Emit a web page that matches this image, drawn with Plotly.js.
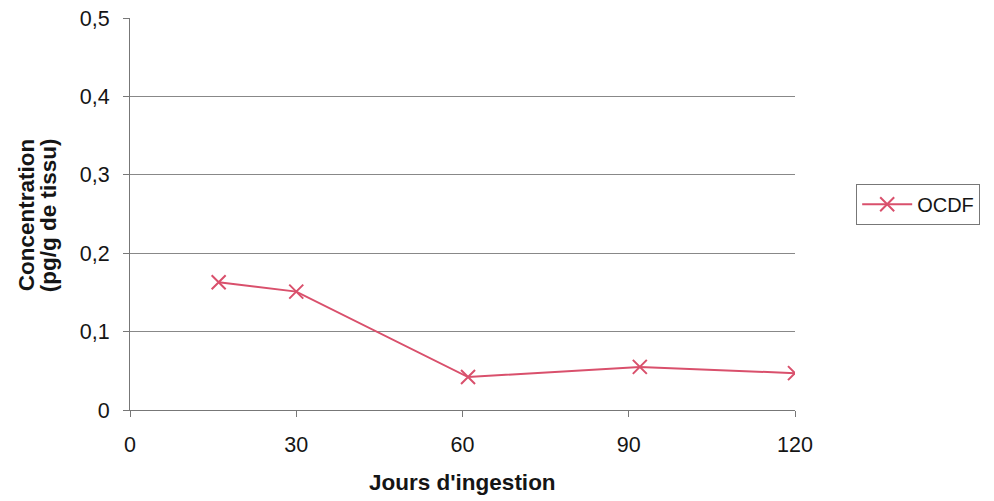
<!DOCTYPE html>
<html>
<head>
<meta charset="utf-8">
<script src="https://cdn.plot.ly/plotly-3.0.1.min.js"></script>
<style>html,body{margin:0;padding:0;background:#fff;}#chart{width:994px;height:501px;}</style>
</head>
<body>
<div id="chart"></div>
<script>
const days = [16, 30, 61, 92, 120];
const ocdf = [0.163, 0.151, 0.042, 0.055, 0.047];
const seriesName = "OCDF";
const yTickVals = [0, 0.1, 0.2, 0.3, 0.4, 0.5];
const yTickText = ["0", "0,1", "0,2", "0,3", "0,4", "0,5"];
const xTickVals = [0, 30, 60, 90, 120];
const xTickText = ["0", "30", "60", "90", "120"];
const xTitle = "Jours d'ingestion";
const yTitleLines = ["Concentration", "(pg/g de tissu)"];

const lineColor = "#d9506c";
const trace = {
  x: days, y: ocdf, name: seriesName, type: "scatter", mode: "lines+markers",
  line: {color: lineColor, width: 2},
  marker: {symbol: "x-thin-open", size: 14, color: lineColor, line: {color: lineColor, width: 2}}
};
const titleFont = {family: "Liberation Sans, Arial, sans-serif", size: 22.5, color: "#151515"};
const layout = {
  width: 994, height: 501,
  margin: {l: 130, r: 199, t: 18, b: 91},
  paper_bgcolor: "#fff", plot_bgcolor: "#fff",
  font: {family: "Liberation Sans, Arial, sans-serif", color: "#151515", size: 21},
  showlegend: true,
  legend: {x: 1.092, xanchor: "left", y: 0.525, yanchor: "middle",
    bordercolor: "#777", borderwidth: 1, font: {size: 20},
    itemwidth: 50},
  xaxis: {
    range: [0, 120], tickvals: xTickVals, ticktext: xTickText,
    showgrid: false, zeroline: false, showline: true, linecolor: "#777", linewidth: 1,
    ticks: "outside", ticklen: 6, tickcolor: "#777", tickfont: {size: 21.5},
    ticklabelstandoff: 9
  },
  yaxis: {
    range: [0, 0.5], tickvals: yTickVals, ticktext: yTickText,
    showgrid: true, gridcolor: "#888", gridwidth: 1, zeroline: false,
    showline: true, linecolor: "#777", linewidth: 1,
    ticks: "outside", ticklen: 6, tickcolor: "#777", tickfont: {size: 21.5},
    ticklabelstandoff: 9
  },
  annotations: [
    {text: "<b>" + xTitle + "</b>", xref: "paper", yref: "paper", x: 0.5, y: 0,
     xanchor: "center", yanchor: "middle", yshift: -72, showarrow: false, font: titleFont},
    {text: "<b>" + yTitleLines[0] + "</b>", xref: "paper", yref: "paper", x: 0, y: 0.497,
     xanchor: "center", yanchor: "middle", xshift: -104, textangle: -90, showarrow: false, font: titleFont},
    {text: "<b>" + yTitleLines[1] + "</b>", xref: "paper", yref: "paper", x: 0, y: 0.497,
     xanchor: "center", yanchor: "middle", xshift: -82, textangle: -90, showarrow: false, font: titleFont}
  ]
};
Plotly.newPlot("chart", [trace], layout, {displayModeBar: false, staticPlot: true});
</script>
</body>
</html>
